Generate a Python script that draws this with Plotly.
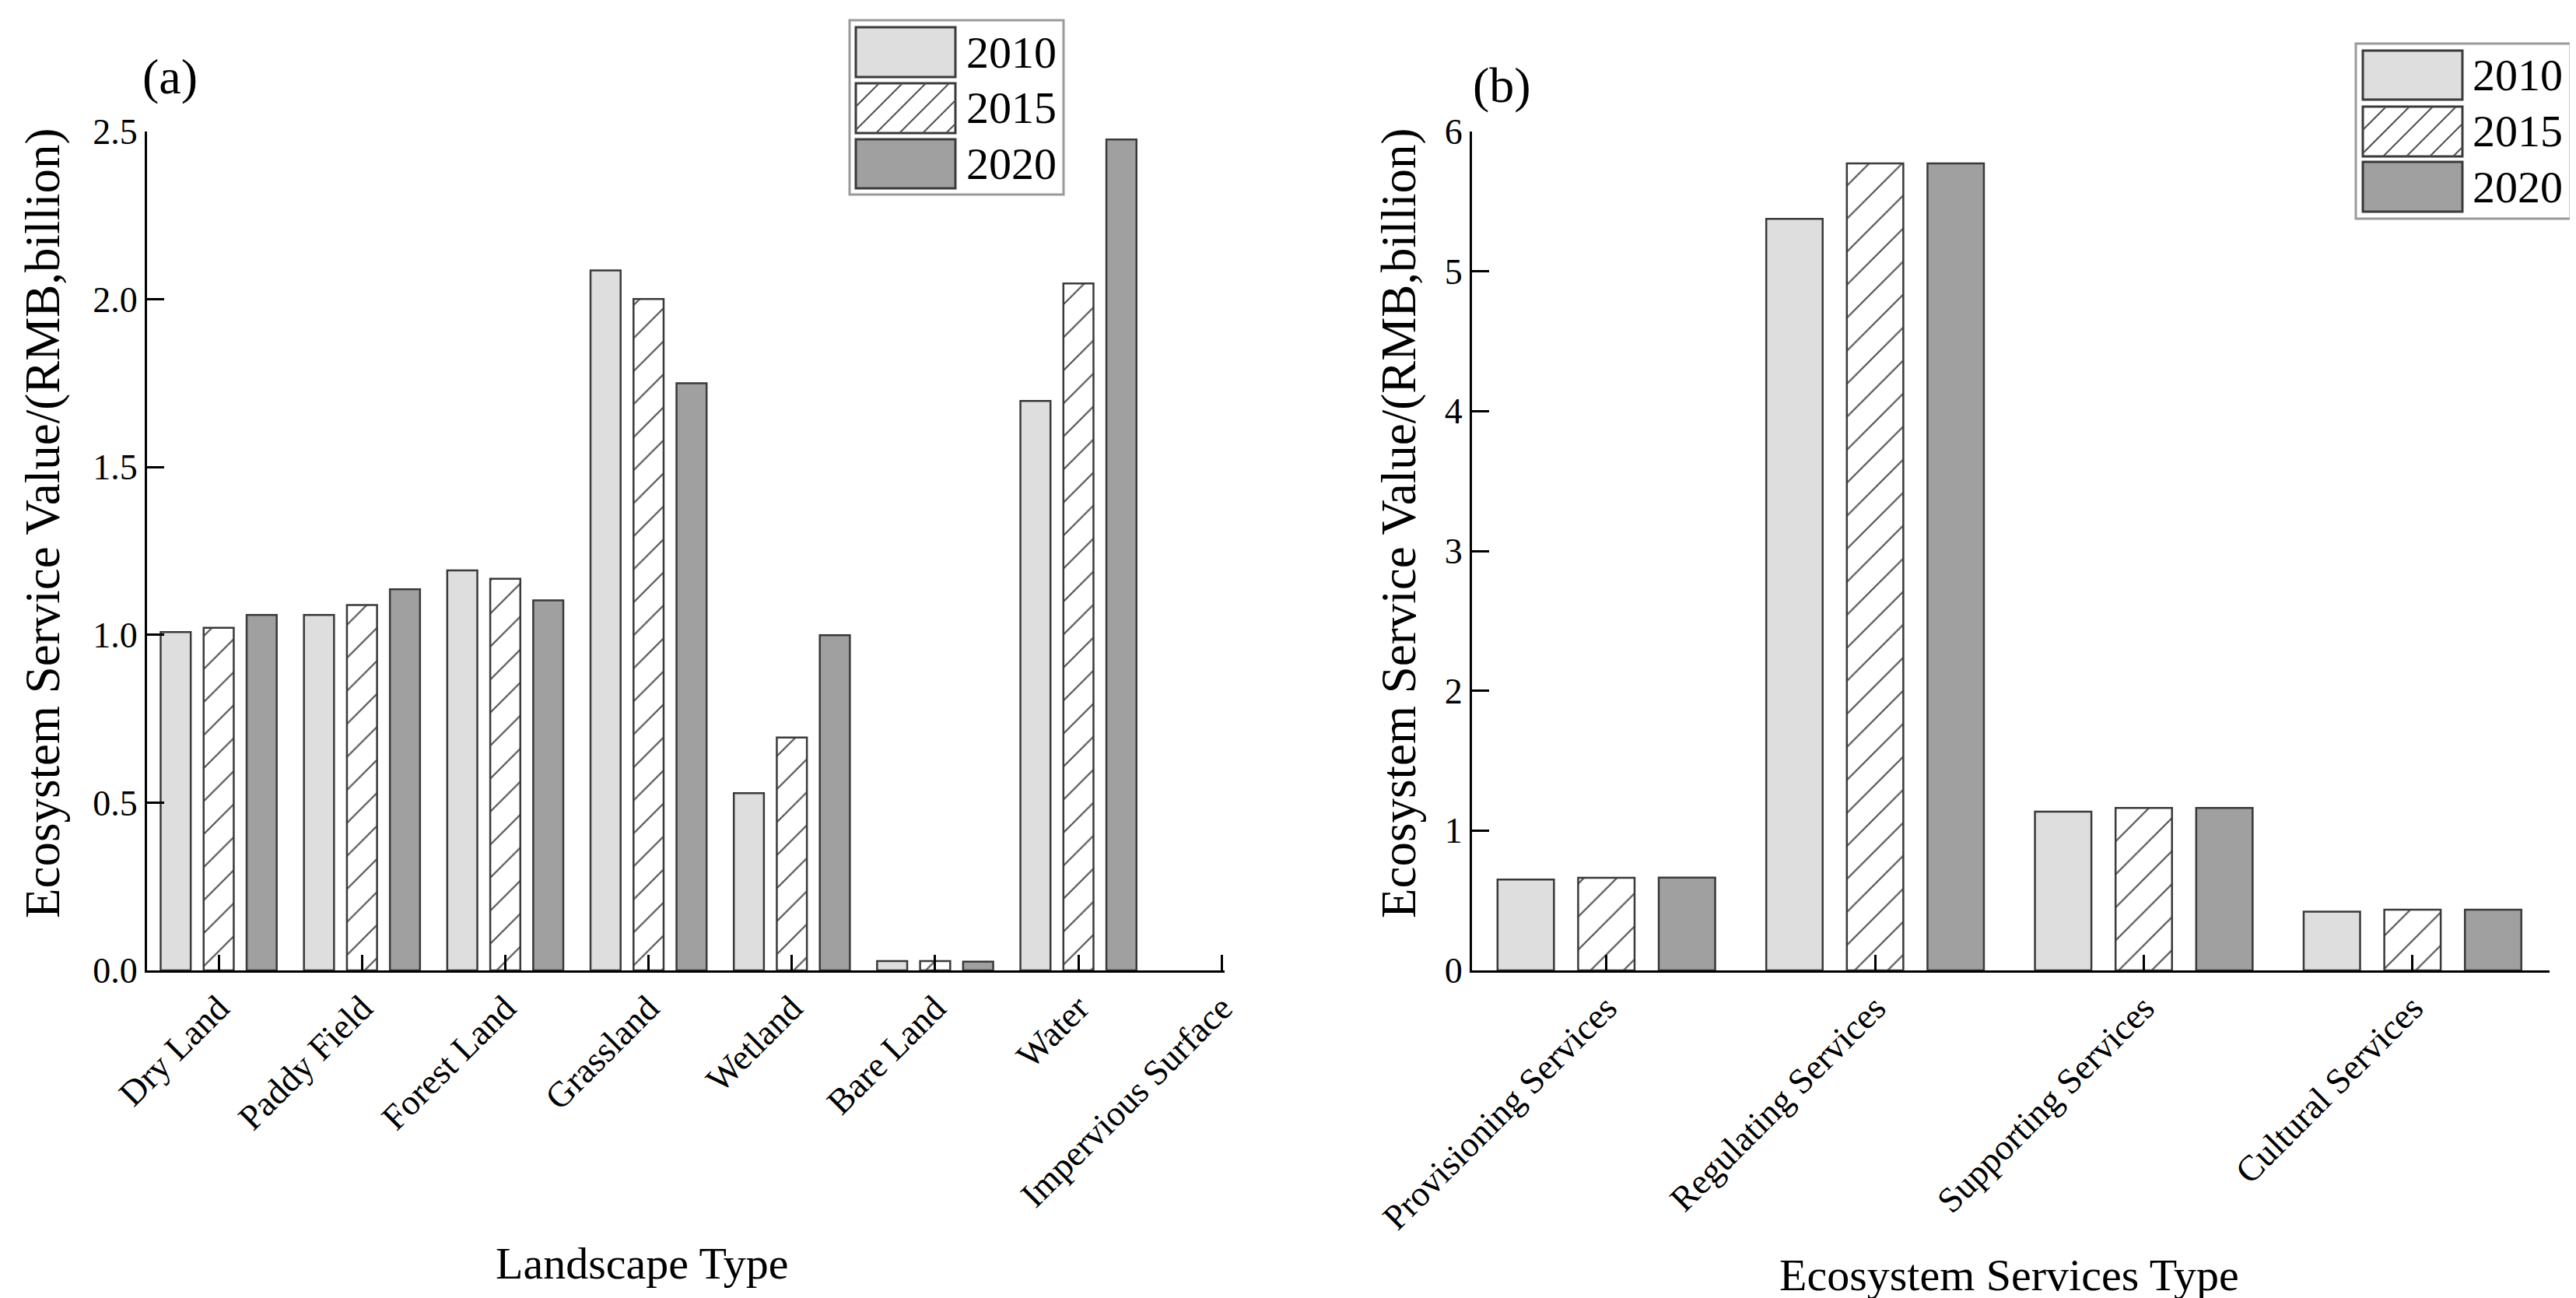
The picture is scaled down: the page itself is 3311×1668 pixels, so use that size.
import plotly.graph_objects as go

# ---------------- data ----------------
years = ["2010", "2015", "2020"]

landscape_types = ["Dry Land", "Paddy Field", "Forest Land", "Grassland",
                   "Wetland", "Bare Land", "Water", "Impervious Surface"]
esv_landscape_2010 = [1.008, 1.059, 1.192, 2.086, 0.528, 0.028, 1.697, None]
esv_landscape_2015 = [1.021, 1.089, 1.167, 2.001, 0.694, 0.028, 2.047, None]
esv_landscape_2020 = [1.059, 1.136, 1.103, 1.750, 0.999, 0.026, 2.476, None]

service_types = ["Provisioning Services", "Regulating Services",
                 "Supporting Services", "Cultural Services"]
esv_service_2010 = [0.650, 5.375, 1.135, 0.420]
esv_service_2015 = [0.662, 5.772, 1.162, 0.434]
esv_service_2020 = [0.664, 5.772, 1.162, 0.434]

ytick_a = [0, 0.5, 1.0, 1.5, 2.0, 2.5]
ytick_b = [0, 1, 2, 3, 4, 5, 6]

# ---------------- styles ----------------
W, H = 3311, 1668
FONT = "Liberation Serif"
EDGE = "#3a3a3a"
styles = {
    "2010": dict(color="#dedede"),
    "2015": dict(color="white",
                 pattern=dict(shape="/", fgcolor="#505050", bgcolor="white",
                              size=30, solidity=0.07, fillmode="replace")),
    "2020": dict(color="#a0a0a0"),
}


def px(x):
    return x / W


def py(y):
    return 1 - y / H


fig = go.Figure()

series_a = [esv_landscape_2010, esv_landscape_2015, esv_landscape_2020]
series_b = [esv_service_2010, esv_service_2015, esv_service_2020]
for yr, vals in zip(years, series_a):
    fig.add_trace(go.Bar(x=landscape_types, y=vals, name=yr, showlegend=False,
                         marker=dict(**styles[yr], line=dict(color=EDGE, width=2.5)),
                         xaxis="x", yaxis="y"))
for yr, vals in zip(years, series_b):
    fig.add_trace(go.Bar(x=service_types, y=vals, name=yr, showlegend=False,
                         marker=dict(**styles[yr], line=dict(color=EDGE, width=2.5)),
                         xaxis="x2", yaxis="y2"))

axis_common = dict(showgrid=False, zeroline=False, showline=True, linecolor="black",
                   linewidth=3, ticks="inside", tickcolor="black", automargin=False,
                   tickfont=dict(family=FONT, size=46, color="black"))

plot_top, plot_bot = 161, 1239
fig.update_layout(
    width=W, height=H, margin=dict(l=0, r=0, t=0, b=0),
    paper_bgcolor="white", plot_bgcolor="white",
    barmode="group", bargap=0.10, bargroupgap=0.30,
    xaxis=dict(**axis_common, domain=[px(181), px(1566)], anchor="y",
               type="category", range=[-0.5, 7.02], ticklen=20, tickwidth=2.5,
               tickangle=-45),
    yaxis=dict(**axis_common, domain=[py(plot_bot), py(plot_top)], anchor="x",
               range=[0, 2.5], tickvals=ytick_a, tickformat=".1f", ticklen=22, tickwidth=3),
    xaxis2=dict(**axis_common, domain=[px(1884), px(3269)], anchor="y2",
                type="category", range=[-0.5, 3.51], ticklen=20, tickwidth=2.5,
                tickangle=-45),
    yaxis2=dict(**axis_common, domain=[py(plot_bot), py(plot_top)], anchor="x2",
                range=[0, 6], tickvals=ytick_b, ticklen=22, tickwidth=3),
)

ann = []
title_font = dict(family=FONT, size=63, color="black")
ann.append(dict(text="Ecosystem Service Value/(RMB,billion)", x=px(47), y=py(665),
                xref="paper", yref="paper", showarrow=False, textangle=-90,
                font=title_font, xanchor="center", yanchor="middle"))
ann.append(dict(text="Ecosystem Service Value/(RMB,billion)", x=px(1790), y=py(665),
                xref="paper", yref="paper", showarrow=False, textangle=-90,
                font=title_font, xanchor="center", yanchor="middle"))
ann.append(dict(text="Landscape Type", x=px(817), y=py(1615), xref="paper", yref="paper",
                showarrow=False, font=dict(family=FONT, size=58, color="black"),
                xanchor="center", yanchor="middle"))
ann.append(dict(text="Ecosystem Services Type", x=px(2574), y=py(1630), xref="paper",
                yref="paper", showarrow=False, font=dict(family=FONT, size=58, color="black"),
                xanchor="center", yanchor="middle"))
ann.append(dict(text="(a)", x=px(210), y=py(90), xref="paper", yref="paper",
                showarrow=False, font=dict(family=FONT, size=64, color="black"),
                xanchor="center", yanchor="middle"))
ann.append(dict(text="(b)", x=px(1922), y=py(102), xref="paper", yref="paper",
                showarrow=False, font=dict(family=FONT, size=64, color="black"),
                xanchor="center", yanchor="middle"))

shapes = []


def add_legend(x0, y0, x1, y1, sw_x0, sw_x1, rows, text_x):
    shapes.append(dict(type="rect", xref="paper", yref="paper", x0=px(x0), x1=px(x1),
                       y0=py(y1), y1=py(y0), line=dict(color="#9a9a9a", width=3),
                       fillcolor="white"))
    for yr, (ry0, ry1) in zip(years, rows):
        fill = styles[yr]["color"]
        shapes.append(dict(type="rect", xref="paper", yref="paper", x0=px(sw_x0),
                           x1=px(sw_x1), y0=py(ry1), y1=py(ry0),
                           line=dict(color=EDGE, width=3), fillcolor=fill))
        if yr == "2015":
            step = 30
            c = sw_x0 - (ry1 - ry0)
            while c < sw_x1:
                xa, ya = c, ry1
                xb, yb = c + (ry1 - ry0), ry0
                if xa < sw_x0:
                    ya = ya - (sw_x0 - xa)
                    xa = sw_x0
                if xb > sw_x1:
                    yb = yb + (xb - sw_x1)
                    xb = sw_x1
                if xb > xa:
                    shapes.append(dict(type="line", xref="paper", yref="paper",
                                       x0=px(xa), y0=py(ya), x1=px(xb), y1=py(yb),
                                       line=dict(color="#505050", width=2)))
                c += step
        ann.append(dict(text=yr, x=px(text_x), y=py((ry0 + ry1) / 2), xref="paper",
                        yref="paper", showarrow=False, xanchor="left", yanchor="middle",
                        font=dict(family=FONT, size=58, color="black")))


add_legend(1084, 18, 1359, 242, 1092, 1220, [(27, 91), (99, 163), (171, 234)], 1232)
add_legend(3020, 48, 3296, 273, 3029, 3157, [(57, 120), (129, 193), (200, 264)], 3168)

fig.update_layout(annotations=ann, shapes=shapes)
fig.write_html("out.html")
